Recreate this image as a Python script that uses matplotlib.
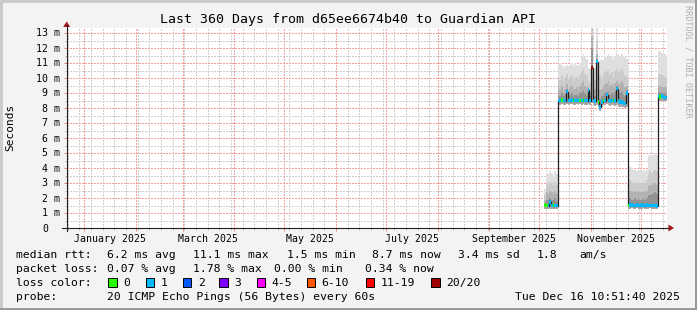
import datetime as dt
import numpy as np
import matplotlib
matplotlib.use("Agg")
import matplotlib.pyplot as plt
import matplotlib.dates as mdates
import matplotlib.transforms as mtransforms
from matplotlib.lines import Line2D
from matplotlib.patches import Rectangle, Polygon

W, H = 697, 310
FONT = "DejaVu Sans Mono"

start = dt.datetime(2024, 12, 21, 10, 51, 40)
end = dt.datetime(2025, 12, 16, 10, 51, 40)
first_day = dt.datetime(2025, 10, 4)

# daily values in ms, Oct 4 .. Dec 16 2025, four stretches
med_a = [1.55, 1.5, 1.5, 1.75, 1.5, 1.55, 1.5, 1.5]
med_b = [8.5, 8.5, 8.55, 8.5, 8.5, 9.1, 8.5, 8.5, 8.55, 8.5, 8.5, 8.5, 8.55, 8.5,
         8.5, 8.55, 8.5, 8.5, 9.2, 8.5, 10.7, 8.5, 8.45, 11.1, 8.4, 8.05, 8.4, 8.5,
         8.5, 8.9, 8.5, 8.45, 8.5, 8.5, 8.45, 9.3, 8.45, 8.4, 8.4, 8.35, 8.3, 9.0]
med_c = [1.5, 1.55, 1.55, 1.5, 1.5, 1.55, 1.5, 1.5, 1.55, 1.5, 1.5, 1.55, 1.5, 1.5,
         1.5, 1.55, 1.5, 1.45]
med_d = [8.8, 8.75, 8.8, 8.75, 8.7, 8.7]

# lost pings per step (out of 20)
loss_a = [0, 0, 1, 1, 1, 0, 1, 1]
loss_b = [1, 1, 0, 1, 1, 1, 1, 1, 1, 0, 1, 1, 1, 0, 1, 0, 1, 1, 1, 1, 20, 1, 1, 1,
          0, 1, 1, 0, 1, 1, 1, 1, 1, 0, 1, 1, 1, 1, 1, 1, 1, 1]
loss_c = [0] + [1] * 17
loss_d = [1, 0, 1, 1, 1, 1]

# smoke: min, and upper quantiles
min_a = [1.3, 1.3, 1.3, 1.3, 1.3, 1.3, 1.3, 1.3]
min_b = [8.25, 8.2, 8.25, 8.2, 8.2, 8.25, 8.2, 8.25, 8.25, 8.2, 8.2, 8.25, 8.2, 8.25,
         8.2, 8.25, 8.2, 8.2, 8.25, 8.2, 8.3, 8.2, 8.15, 8.2, 8.1, 7.8, 8.1, 8.2,
         8.2, 8.25, 8.2, 8.15, 8.2, 8.2, 8.15, 8.2, 8.1, 8.1, 8.1, 8.05, 8.0, 8.1]
min_c = [1.3, 1.3, 1.35, 1.3, 1.3, 1.35, 1.3, 1.3, 1.3, 1.35, 1.3, 1.3, 1.3, 1.35,
         1.3, 1.3, 1.3, 1.3]
min_d = [8.5, 8.5, 8.5, 8.5, 8.5, 8.5]

p60_a = [1.7, 1.9, 1.9, 2.0, 1.9, 1.9, 2.0, 1.8]
p60_b = [8.9, 8.8, 9.0, 8.8, 8.9, 9.3, 8.8, 8.9, 9.0, 8.8, 8.9, 8.9, 8.8, 9.0,
         9.1, 9.2, 9.0, 8.9, 9.4, 8.8, 12.0, 8.8, 8.8, 11.3, 8.8, 8.6, 8.8, 8.9,
         9.0, 9.1, 9.1, 8.9, 9.0, 8.9, 9.1, 9.5, 9.0, 9.0, 9.1, 8.9, 8.8, 9.2]
p60_c = [2.0, 2.0, 1.9, 1.9, 2.0, 1.9, 2.0, 1.9, 1.9, 2.0, 1.9, 2.0, 2.2, 2.2,
         2.3, 2.3, 2.4, 2.3]
p60_d = [9.1, 9.1, 9.0, 9.0, 9.0, 8.9]

p75_a = [1.9, 2.4, 2.3, 2.5, 2.4, 2.3, 2.5, 2.3]
p75_b = [9.4, 9.2, 9.5, 9.1, 9.3, 9.6, 9.2, 9.4, 9.5, 9.2, 9.3, 9.4, 9.2, 9.5,
         9.7, 9.8, 9.5, 9.4, 9.3, 9.1, 12.8, 9.2, 9.3, 11.6, 9.3, 9.2, 9.3, 9.5,
         9.6, 9.7, 9.8, 9.5, 9.6, 9.4, 9.7, 9.8, 9.6, 9.7, 9.8, 9.6, 9.4, 9.5]
p75_c = [2.6, 2.5, 2.5, 2.4, 2.5, 2.4, 2.5, 2.4, 2.4, 2.5, 2.4, 2.5, 2.8, 2.9,
         2.9, 3.0, 3.0, 2.9]
p75_d = [9.5, 9.5, 9.4, 9.4, 9.4, 9.3]

p90_a = [2.2, 3.0, 2.9, 3.1, 3.0, 2.8, 3.1, 2.9]
p90_b = [10.1, 9.9, 10.2, 9.8, 10.0, 10.3, 9.9, 10.1, 10.2, 9.8, 10.0, 10.1, 9.9, 10.2,
         10.5, 10.6, 10.3, 10.2, 9.8, 9.7, 13.5, 9.8, 9.9, 12.5, 10.1, 10.2, 10.0, 10.3,
         10.4, 10.5, 10.6, 10.3, 10.4, 10.1, 10.5, 10.6, 10.4, 10.5, 10.6, 10.4, 10.2, 10.1]
p90_c = [3.3, 3.2, 3.1, 3.0, 3.1, 3.0, 3.1, 3.0, 3.0, 3.1, 3.0, 3.2, 3.6, 3.8,
         3.7, 3.8, 3.9, 3.8]
p90_d = [10.3, 10.3, 10.2, 10.2, 10.1, 10.1]

max_a = [2.6, 3.7, 3.6, 3.8, 3.7, 3.5, 3.8, 3.6]
max_b = [11.0, 11.0, 10.9, 10.7, 10.8, 10.9, 10.8, 10.9, 11.0, 10.8, 11.0, 10.9, 10.8, 11.0,
         11.5, 11.6, 11.4, 11.3, 10.7, 10.6, 14.0, 10.6, 10.7, 14.0, 11.1, 11.2, 11.2, 11.3,
         11.5, 11.4, 11.6, 11.5, 11.4, 11.2, 11.5, 11.6, 11.6, 11.5, 11.6, 11.5, 11.4, 11.3]
max_c = [4.1, 4.1, 4.0, 3.9, 3.9, 3.8, 3.9, 3.9, 3.8, 3.9, 3.8, 3.9, 4.8, 4.9,
         4.8, 4.9, 5.0, 4.9]
max_d = [11.8, 11.8, 11.7, 11.7, 11.6, 11.5]

loss_colors = {0: "#26ff00", 1: "#00b8ff", 2: "#0059ff", 3: "#7e00ff",
               4: "#ff00ff", 6: "#ff5500", 11: "#ff0000", 20: "#a10000"}
loss_labels = ["0", "1", "2", "3", "4-5", "6-10", "11-19", "20/20"]
loss_keys = [0, 1, 2, 3, 4, 6, 11, 20]

month_labels = ["January 2025", "March 2025", "May 2025", "July 2025",
                "September 2025", "November 2025"]
label_months = [1, 3, 5, 7, 9, 11]
ytick_vals = list(range(14))
ytick_labels = ["0"] + ["%d m" % v for v in range(1, 14)]

title = "Last 360 Days from d65ee6674b40 to Guardian API"
legend_rows = [
    ("median rtt:", [(106.7, "6.2 ms avg"), (193.3, "11.1 ms max"), (286.7, "1.5 ms min"),
                     (372, "8.7 ms now"), (458.3, "3.4 ms sd"), (536.7, "1.8"), (579.3, "am/s")]),
    ("packet loss:", [(106.7, "0.07 % avg"), (193.3, "1.78 % max"), (274, "0.00 % min"),
                      (365, "0.34 % now")]),
]
probe_text = "20 ICMP Echo Pings (56 Bytes) every 60s"
stamp_text = "Tue Dec 16 10:51:40 2025"


median = np.array(med_a + med_b + med_c + med_d)
loss = loss_a + loss_b + loss_c + loss_d
smin = np.array(min_a + min_b + min_c + min_d)
p60 = np.array(p60_a + p60_b + p60_c + p60_d)
p75 = np.array(p75_a + p75_b + p75_c + p75_d)
p90 = np.array(p90_a + p90_b + p90_c + p90_d)
smax = np.array(max_a + max_b + max_c + max_d)

days = [first_day + dt.timedelta(days=i) for i in range(len(median))] + [end]
edges = mdates.date2num(days)


def fx(x):
    return x / W


def fy(y):
    return 1 - y / H


fig = plt.figure(figsize=(W / 100, H / 100), dpi=100)
fig.patch.set_facecolor("#f3f3f3")

left, top, pw, ph = 66.7, 28, 600, 200
ax = fig.add_axes([fx(left), fy(top + ph), pw / W, ph / H])
ax.set_facecolor("white")
ax.set_xlim(mdates.date2num(start), mdates.date2num(end))
ax.set_ylim(0, ph / 15.0)
for s in ax.spines.values():
    s.set_visible(False)

# grid (crisp 1px dots), under the smoke
gstyle = dict(lw=1.0, linestyle=(0, (1, 1)), zorder=0.5, antialiased=False)
for v in np.arange(0.5, 13.4, 1.0):
    ax.axhline(v, color="#cfcfcf", **gstyle)
sun = dt.datetime(2024, 12, 22)
weeks = []
while sun < end:
    weeks.append(mdates.date2num(sun))
    sun += dt.timedelta(days=7)
for w in weeks:
    ax.axvline(w, color="#cfcfcf", **gstyle)
months = [mdates.date2num(dt.datetime(2025, m, 1)) for m in range(1, 13)]
for v in range(1, 14):
    ax.axhline(v, color="#f2a0a0", **gstyle)
for m in months:
    ax.axvline(m, color="#f2a0a0", **gstyle)

# smoke
ax.stairs(median, edges, baseline=smin, fill=True, color="#a8a8a8", lw=0, zorder=1)
ax.stairs(p60, edges, baseline=median, fill=True, color="#939393", lw=0, zorder=1)
ax.stairs(p75, edges, baseline=p60, fill=True, color="#b2b2b2", lw=0, zorder=1)
ax.stairs(p90, edges, baseline=p75, fill=True, color="#cbcbcb", lw=0, zorder=1)
ax.stairs(smax, edges, baseline=p90, fill=True, color="#dfdfdf", lw=0, zorder=1)

ax.set_xticks(months)
ax.set_xticks(weeks, minor=True)
ax.set_yticks(ytick_vals)
ax.set_yticks(np.arange(0.5, 13.4, 1.0), minor=True)
ax.tick_params(which="major", length=2.5, width=0.72, color="#f08080",
               labelbottom=False, labelleft=False)
ax.tick_params(which="minor", length=1.5, width=0.72, color="#bbbbbb")

# median + loss colour band
ax.stairs(median, edges, baseline=None, color="#202020", lw=0.9, zorder=3)
ax.bar(edges[:-1], 0.24, width=np.diff(edges), bottom=median - 0.12,
       color=[loss_colors[l] for l in loss], align="edge", lw=0, zorder=4)

# axis lines and arrows
ac = "#202020"
fig.add_artist(Line2D([fx(62), fx(668)], [fy(228), fy(228)], color=ac, lw=0.8))
fig.add_artist(Line2D([fx(left), fx(left)], [fy(231), fy(25)], color=ac, lw=0.8))
arrow_c = "#a51515"
fig.add_artist(Polygon([(fx(left), fy(21.5)), (fx(left - 3.5), fy(27)), (fx(left + 3.5), fy(27))],
                       closed=True, color=arrow_c, lw=0))
fig.add_artist(Polygon([(fx(674), fy(228)), (fx(668.5), fy(224.5)), (fx(668.5), fy(231.5))],
                       closed=True, color=arrow_c, lw=0))

# tick labels
xt = ax.get_xaxis_transform()
for m, lab in zip(label_months, month_labels):
    a = dt.datetime(2025, m, 1)
    b = dt.datetime(2025, m + 1, 1)
    c = mdates.date2num(a + (b - a) / 2)
    ax.text(c, -13.5 / ph, lab, transform=xt, ha="center", va="baseline",
            fontsize=7.15, family=FONT, clip_on=False)
yt = mtransforms.offset_copy(ax.get_yaxis_transform(), fig=fig, x=0, y=-3.5, units="dots")
for v, lab in zip(ytick_vals, ytick_labels):
    xr = 60 if v else 48
    ax.text((xr - left) / pw, v, lab, transform=yt, ha="right", va="baseline",
            fontsize=7.1, family=FONT, clip_on=False)

# texts
fig.text(fx(348), fy(23.3), title, ha="center", va="baseline", fontsize=9.5, family=FONT)
fig.text(fx(10), fy(127), "Seconds", ha="center", va="center", rotation=90,
         fontsize=8, family=FONT)
fig.text(fx(688), fy(5), "RRDTOOL / TOBI OETIKER", ha="center", va="top", rotation=270,
         fontsize=6.1, family=FONT, color="#b0b0b0")

lf = 8.2
base = [258.3, 272.3, 286.3, 300.2]
for (head, items), yb in zip(legend_rows, base):
    fig.text(fx(16), fy(yb), head, va="baseline", fontsize=lf, family=FONT)
    for x, s in items:
        fig.text(fx(x), fy(yb), s, va="baseline", fontsize=lf, family=FONT)

fig.text(fx(16), fy(base[2]), "loss color:", va="baseline", fontsize=lf, family=FONT)
box_x = [108.3, 145.7, 182.7, 219.3, 256.7, 306.7, 365.7, 431]
for bx, k, lab in zip(box_x, loss_keys, loss_labels):
    fig.add_artist(Rectangle((fx(bx), fy(286.7)), 8.5 / W, 8.7 / H,
                             facecolor=loss_colors[k], edgecolor="black", lw=0.7))
    fig.text(fx(bx + 15), fy(base[2]), lab, va="baseline", fontsize=lf, family=FONT)

fig.text(fx(16), fy(base[3]), "probe:", va="baseline", fontsize=lf, family=FONT)
fig.text(fx(106.7), fy(base[3]), probe_text, va="baseline", fontsize=lf, family=FONT)
fig.text(fx(680), fy(base[3]), stamp_text, ha="right", va="baseline", fontsize=lf, family=FONT)

# 3d-ish frame
fig.add_artist(Rectangle((0, fy(2.5)), 1, 2.5 / H, facecolor="#cbcbcb", lw=0))
fig.add_artist(Rectangle((0, 0), 2.5 / W, 1, facecolor="#cbcbcb", lw=0))
fig.add_artist(Rectangle((0, 0), 1, 2.5 / H, facecolor="#999999", lw=0))
fig.add_artist(Rectangle((fx(W - 2.5), 0), 2.5 / W, 1, facecolor="#999999", lw=0))

fig.savefig("out.png", dpi=100, facecolor=fig.get_facecolor())
